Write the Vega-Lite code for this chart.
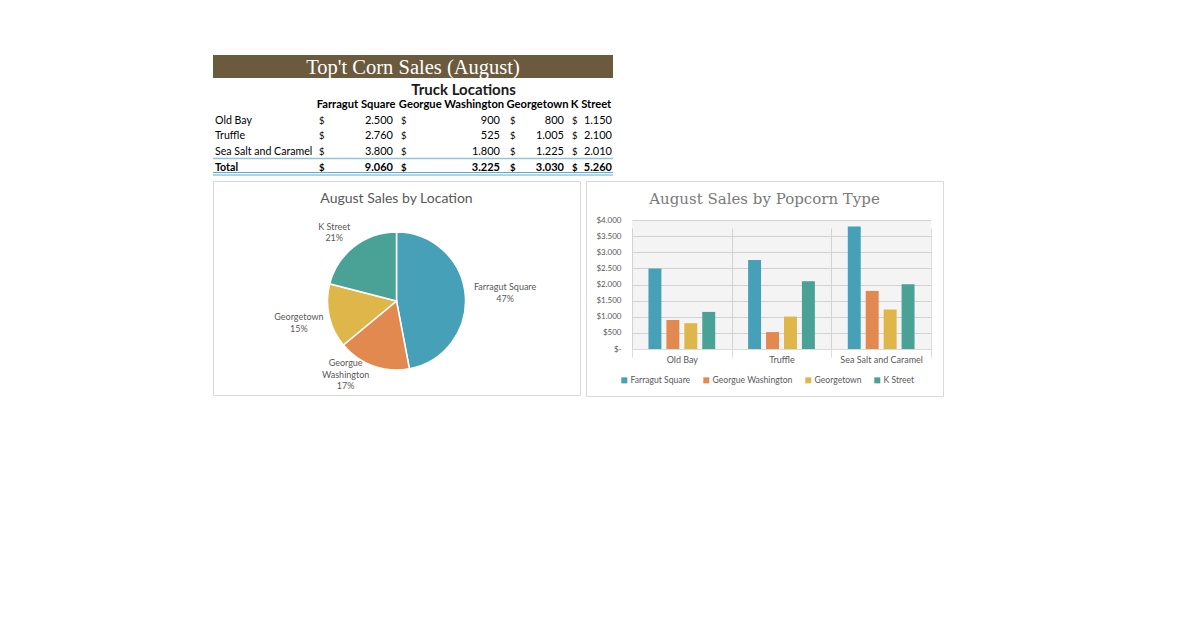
{
  "$schema": "https://vega.github.io/schema/vega-lite/v6.json",
  "padding": {"left": 212, "top": 55, "right": 0, "bottom": 0},
  "background": "white",
  "spacing": 0,
  "config": {
    "view": {"stroke": null},
    "font": "Lato",
    "locale": {"number": {"decimal": ",", "thousands": ".", "grouping": [3], "currency": ["$", ""]}}
  },
  "datasets": {
    "sales": [
      {"type": "Old Bay", "loc": "Farragut Square", "sales": 2500},
      {"type": "Old Bay", "loc": "Georgue Washington", "sales": 900},
      {"type": "Old Bay", "loc": "Georgetown", "sales": 800},
      {"type": "Old Bay", "loc": "K Street", "sales": 1150},
      {"type": "Truffle", "loc": "Farragut Square", "sales": 2760},
      {"type": "Truffle", "loc": "Georgue Washington", "sales": 525},
      {"type": "Truffle", "loc": "Georgetown", "sales": 1005},
      {"type": "Truffle", "loc": "K Street", "sales": 2100},
      {"type": "Sea Salt and Caramel", "loc": "Farragut Square", "sales": 3800},
      {"type": "Sea Salt and Caramel", "loc": "Georgue Washington", "sales": 1800},
      {"type": "Sea Salt and Caramel", "loc": "Georgetown", "sales": 1225},
      {"type": "Sea Salt and Caramel", "loc": "K Street", "sales": 2010}
    ],
    "totals": [
      {"type": "Total", "loc": "Farragut Square", "sales": 9060},
      {"type": "Total", "loc": "Georgue Washington", "sales": 3225},
      {"type": "Total", "loc": "Georgetown", "sales": 3030},
      {"type": "Total", "loc": "K Street", "sales": 5260}
    ],
    "pie": [
      {"loc": "Farragut Square", "pct": 47, "label": "Farragut Square"},
      {"loc": "Georgue Washington", "pct": 17, "label": "Georgue\nWashington"},
      {"loc": "Georgetown", "pct": 15, "label": "Georgetown"},
      {"loc": "K Street", "pct": 21, "label": "K Street"}
    ]
  },
  "vconcat": [
    {
      "width": 400,
      "height": 23,
      "view": {"fill": "#6b5a3d", "stroke": null},
      "data": {"values": [{"title": "Top't Corn Sales (August)"}]},
      "mark": {"type": "text", "font": "Liberation Serif", "fontSize": 20.5, "color": "#ffffff", "dy": 1},
      "encoding": {"text": {"field": "title"}}
    },
    {
      "bounds": "flush",
      "spacing": 0,
      "hconcat": [
        {
          "width": 102,
          "height": 102,
          "layer": [
            {
              "data": {"name": "sales"},
              "transform": [{"filter": "datum.loc === 'Farragut Square'"}],
              "mark": {"type": "text", "align": "left", "dx": 2, "fontSize": 10.6, "color": "#000000"},
              "encoding": {
                "y": {"field": "type", "type": "nominal", "axis": null, "scale": {"type": "point", "domain": ["Truck Locations", "header", "Old Bay", "Truffle", "Sea Salt and Caramel", "Total"], "range": [11.5, 89.5], "padding": 0}},
                "x": {"datum": 0, "type": "quantitative", "axis": null, "scale": {"domain": [0, 1]}},
                "text": {"field": "type"}
              }
            },
            {
              "data": {"name": "totals"},
              "transform": [{"filter": "datum.loc === 'Farragut Square'"}],
              "mark": {"type": "text", "align": "left", "dx": 2, "fontSize": 10.6, "fontWeight": "bold", "color": "#000000"},
              "encoding": {
                "y": {"field": "type", "type": "nominal", "axis": null},
                "x": {"datum": 0, "type": "quantitative", "axis": null},
                "text": {"field": "type"}
              }
            },
            {"data": {"name": "totals"}, "transform": [{"filter": "datum.loc === 'Farragut Square'"}], "mark": {"type": "rule", "yOffset": -9, "color": "#8fc6dc", "strokeWidth": 1.3}, "encoding": {"y": {"field": "type", "type": "nominal", "axis": null}}},
            {"data": {"name": "totals"}, "transform": [{"filter": "datum.loc === 'Farragut Square'"}], "mark": {"type": "rule", "yOffset": 5, "color": "#5aaed0", "strokeWidth": 1}, "encoding": {"y": {"field": "type", "type": "nominal", "axis": null}}},
            {"data": {"name": "totals"}, "transform": [{"filter": "datum.loc === 'Farragut Square'"}], "mark": {"type": "rule", "yOffset": 7.5, "color": "#5aaed0", "strokeWidth": 1}, "encoding": {"y": {"field": "type", "type": "nominal", "axis": null}}}
          ]
        },
        {
          "width": 82,
          "height": 102,
          "layer": [
            {
              "data": {"name": "totals"},
              "transform": [{"filter": "datum.loc === 'Farragut Square'"}],
              "mark": {"type": "text", "fontSize": 11.2, "fontWeight": "bold", "color": "#000000"},
              "encoding": {
                "y": {"datum": "header", "type": "nominal", "axis": null, "scale": {"type": "point", "domain": ["Truck Locations", "header", "Old Bay", "Truffle", "Sea Salt and Caramel", "Total"], "range": [11.5, 89.5], "padding": 0}},
                "text": {"field": "loc"}
              }
            },
            {
              "data": {"name": "sales"},
              "transform": [{"filter": "datum.loc === 'Farragut Square'"}],
              "mark": {"type": "text", "align": "left", "dx": 4, "fontSize": 9.5, "color": "#000000"},
              "encoding": {"y": {"field": "type", "type": "nominal", "axis": null}, "x": {"datum": 0, "type": "quantitative", "axis": null, "scale": {"domain": [0, 1]}}, "text": {"value": "$"}}
            },
            {
              "data": {"name": "sales"},
              "transform": [{"filter": "datum.loc === 'Farragut Square'"}],
              "mark": {"type": "text", "align": "right", "dx": -4, "fontSize": 11, "color": "#000000"},
              "encoding": {"y": {"field": "type", "type": "nominal", "axis": null}, "x": {"datum": 1, "type": "quantitative", "axis": null}, "text": {"field": "sales", "type": "quantitative", "format": ",.0f"}}
            },
            {
              "data": {"name": "totals"},
              "transform": [{"filter": "datum.loc === 'Farragut Square'"}],
              "mark": {"type": "text", "align": "left", "dx": 4, "fontSize": 9.5, "fontWeight": "bold", "color": "#000000"},
              "encoding": {"y": {"field": "type", "type": "nominal", "axis": null}, "x": {"datum": 0, "type": "quantitative", "axis": null}, "text": {"value": "$"}}
            },
            {
              "data": {"name": "totals"},
              "transform": [{"filter": "datum.loc === 'Farragut Square'"}],
              "mark": {"type": "text", "align": "right", "dx": -4, "fontSize": 11, "fontWeight": "bold", "color": "#000000"},
              "encoding": {"y": {"field": "type", "type": "nominal", "axis": null}, "x": {"datum": 1, "type": "quantitative", "axis": null}, "text": {"field": "sales", "type": "quantitative", "format": ",.0f"}}
            },
            {"data": {"name": "totals"}, "transform": [{"filter": "datum.loc === 'Farragut Square'"}], "mark": {"type": "rule", "yOffset": -9, "color": "#8fc6dc", "strokeWidth": 1.3}, "encoding": {"y": {"field": "type", "type": "nominal", "axis": null}}},
            {"data": {"name": "totals"}, "transform": [{"filter": "datum.loc === 'Farragut Square'"}], "mark": {"type": "rule", "yOffset": 5, "color": "#5aaed0", "strokeWidth": 1}, "encoding": {"y": {"field": "type", "type": "nominal", "axis": null}}},
            {"data": {"name": "totals"}, "transform": [{"filter": "datum.loc === 'Farragut Square'"}], "mark": {"type": "rule", "yOffset": 7.5, "color": "#5aaed0", "strokeWidth": 1}, "encoding": {"y": {"field": "type", "type": "nominal", "axis": null}}}
          ]
        },
        {
          "width": 109,
          "height": 102,
          "layer": [
            {
              "data": {"name": "totals"},
              "transform": [{"filter": "datum.loc === 'Georgue Washington'"}],
              "mark": {"type": "text", "fontSize": 11.2, "fontWeight": "bold", "color": "#000000"},
              "encoding": {
                "y": {"datum": "header", "type": "nominal", "axis": null, "scale": {"type": "point", "domain": ["Truck Locations", "header", "Old Bay", "Truffle", "Sea Salt and Caramel", "Total"], "range": [11.5, 89.5], "padding": 0}},
                "text": {"field": "loc"}
              }
            },
            {
              "data": {"name": "totals"},
              "transform": [{"filter": "datum.loc === 'Georgue Washington'"}],
              "mark": {"type": "text", "fontSize": 15, "fontWeight": "bold", "color": "#1a1a1a", "dx": 12},
              "encoding": {"y": {"datum": "Truck Locations", "type": "nominal", "axis": null}, "text": {"value": "Truck Locations"}}
            },
            {
              "data": {"name": "sales"},
              "transform": [{"filter": "datum.loc === 'Georgue Washington'"}],
              "mark": {"type": "text", "align": "left", "dx": 4, "fontSize": 9.5, "color": "#000000"},
              "encoding": {"y": {"field": "type", "type": "nominal", "axis": null}, "x": {"datum": 0, "type": "quantitative", "axis": null, "scale": {"domain": [0, 1]}}, "text": {"value": "$"}}
            },
            {
              "data": {"name": "sales"},
              "transform": [{"filter": "datum.loc === 'Georgue Washington'"}],
              "mark": {"type": "text", "align": "right", "dx": -6, "fontSize": 11, "color": "#000000"},
              "encoding": {"y": {"field": "type", "type": "nominal", "axis": null}, "x": {"datum": 1, "type": "quantitative", "axis": null}, "text": {"field": "sales", "type": "quantitative", "format": ",.0f"}}
            },
            {
              "data": {"name": "totals"},
              "transform": [{"filter": "datum.loc === 'Georgue Washington'"}],
              "mark": {"type": "text", "align": "left", "dx": 4, "fontSize": 9.5, "fontWeight": "bold", "color": "#000000"},
              "encoding": {"y": {"field": "type", "type": "nominal", "axis": null}, "x": {"datum": 0, "type": "quantitative", "axis": null}, "text": {"value": "$"}}
            },
            {
              "data": {"name": "totals"},
              "transform": [{"filter": "datum.loc === 'Georgue Washington'"}],
              "mark": {"type": "text", "align": "right", "dx": -6, "fontSize": 11, "fontWeight": "bold", "color": "#000000"},
              "encoding": {"y": {"field": "type", "type": "nominal", "axis": null}, "x": {"datum": 1, "type": "quantitative", "axis": null}, "text": {"field": "sales", "type": "quantitative", "format": ",.0f"}}
            },
            {"data": {"name": "totals"}, "transform": [{"filter": "datum.loc === 'Georgue Washington'"}], "mark": {"type": "rule", "yOffset": -9, "color": "#8fc6dc", "strokeWidth": 1.3}, "encoding": {"y": {"field": "type", "type": "nominal", "axis": null}}},
            {"data": {"name": "totals"}, "transform": [{"filter": "datum.loc === 'Georgue Washington'"}], "mark": {"type": "rule", "yOffset": 5, "color": "#5aaed0", "strokeWidth": 1}, "encoding": {"y": {"field": "type", "type": "nominal", "axis": null}}},
            {"data": {"name": "totals"}, "transform": [{"filter": "datum.loc === 'Georgue Washington'"}], "mark": {"type": "rule", "yOffset": 7.5, "color": "#5aaed0", "strokeWidth": 1}, "encoding": {"y": {"field": "type", "type": "nominal", "axis": null}}}
          ]
        },
        {
          "width": 63,
          "height": 102,
          "layer": [
            {
              "data": {"name": "totals"},
              "transform": [{"filter": "datum.loc === 'Georgetown'"}],
              "mark": {"type": "text", "fontSize": 11.2, "fontWeight": "bold", "color": "#000000"},
              "encoding": {
                "y": {"datum": "header", "type": "nominal", "axis": null, "scale": {"type": "point", "domain": ["Truck Locations", "header", "Old Bay", "Truffle", "Sea Salt and Caramel", "Total"], "range": [11.5, 89.5], "padding": 0}},
                "text": {"field": "loc"}
              }
            },
            {
              "data": {"name": "sales"},
              "transform": [{"filter": "datum.loc === 'Georgetown'"}],
              "mark": {"type": "text", "align": "left", "dx": 4, "fontSize": 9.5, "color": "#000000"},
              "encoding": {"y": {"field": "type", "type": "nominal", "axis": null}, "x": {"datum": 0, "type": "quantitative", "axis": null, "scale": {"domain": [0, 1]}}, "text": {"value": "$"}}
            },
            {
              "data": {"name": "sales"},
              "transform": [{"filter": "datum.loc === 'Georgetown'"}],
              "mark": {"type": "text", "align": "right", "dx": -5, "fontSize": 11, "color": "#000000"},
              "encoding": {"y": {"field": "type", "type": "nominal", "axis": null}, "x": {"datum": 1, "type": "quantitative", "axis": null}, "text": {"field": "sales", "type": "quantitative", "format": ",.0f"}}
            },
            {
              "data": {"name": "totals"},
              "transform": [{"filter": "datum.loc === 'Georgetown'"}],
              "mark": {"type": "text", "align": "left", "dx": 4, "fontSize": 9.5, "fontWeight": "bold", "color": "#000000"},
              "encoding": {"y": {"field": "type", "type": "nominal", "axis": null}, "x": {"datum": 0, "type": "quantitative", "axis": null}, "text": {"value": "$"}}
            },
            {
              "data": {"name": "totals"},
              "transform": [{"filter": "datum.loc === 'Georgetown'"}],
              "mark": {"type": "text", "align": "right", "dx": -5, "fontSize": 11, "fontWeight": "bold", "color": "#000000"},
              "encoding": {"y": {"field": "type", "type": "nominal", "axis": null}, "x": {"datum": 1, "type": "quantitative", "axis": null}, "text": {"field": "sales", "type": "quantitative", "format": ",.0f"}}
            },
            {"data": {"name": "totals"}, "transform": [{"filter": "datum.loc === 'Georgetown'"}], "mark": {"type": "rule", "yOffset": -9, "color": "#8fc6dc", "strokeWidth": 1.3}, "encoding": {"y": {"field": "type", "type": "nominal", "axis": null}}},
            {"data": {"name": "totals"}, "transform": [{"filter": "datum.loc === 'Georgetown'"}], "mark": {"type": "rule", "yOffset": 5, "color": "#5aaed0", "strokeWidth": 1}, "encoding": {"y": {"field": "type", "type": "nominal", "axis": null}}},
            {"data": {"name": "totals"}, "transform": [{"filter": "datum.loc === 'Georgetown'"}], "mark": {"type": "rule", "yOffset": 7.5, "color": "#5aaed0", "strokeWidth": 1}, "encoding": {"y": {"field": "type", "type": "nominal", "axis": null}}}
          ]
        },
        {
          "width": 44,
          "height": 102,
          "layer": [
            {
              "data": {"name": "totals"},
              "transform": [{"filter": "datum.loc === 'K Street'"}],
              "mark": {"type": "text", "fontSize": 11.2, "fontWeight": "bold", "color": "#000000"},
              "encoding": {
                "y": {"datum": "header", "type": "nominal", "axis": null, "scale": {"type": "point", "domain": ["Truck Locations", "header", "Old Bay", "Truffle", "Sea Salt and Caramel", "Total"], "range": [11.5, 89.5], "padding": 0}},
                "text": {"field": "loc"}
              }
            },
            {
              "data": {"name": "sales"},
              "transform": [{"filter": "datum.loc === 'K Street'"}],
              "mark": {"type": "text", "align": "left", "dx": 3, "fontSize": 9.5, "color": "#000000"},
              "encoding": {"y": {"field": "type", "type": "nominal", "axis": null}, "x": {"datum": 0, "type": "quantitative", "axis": null, "scale": {"domain": [0, 1]}}, "text": {"value": "$"}}
            },
            {
              "data": {"name": "sales"},
              "transform": [{"filter": "datum.loc === 'K Street'"}],
              "mark": {"type": "text", "align": "right", "dx": -1, "fontSize": 11, "color": "#000000"},
              "encoding": {"y": {"field": "type", "type": "nominal", "axis": null}, "x": {"datum": 1, "type": "quantitative", "axis": null}, "text": {"field": "sales", "type": "quantitative", "format": ",.0f"}}
            },
            {
              "data": {"name": "totals"},
              "transform": [{"filter": "datum.loc === 'K Street'"}],
              "mark": {"type": "text", "align": "left", "dx": 3, "fontSize": 9.5, "fontWeight": "bold", "color": "#000000"},
              "encoding": {"y": {"field": "type", "type": "nominal", "axis": null}, "x": {"datum": 0, "type": "quantitative", "axis": null}, "text": {"value": "$"}}
            },
            {
              "data": {"name": "totals"},
              "transform": [{"filter": "datum.loc === 'K Street'"}],
              "mark": {"type": "text", "align": "right", "dx": -1, "fontSize": 11, "fontWeight": "bold", "color": "#000000"},
              "encoding": {"y": {"field": "type", "type": "nominal", "axis": null}, "x": {"datum": 1, "type": "quantitative", "axis": null}, "text": {"field": "sales", "type": "quantitative", "format": ",.0f"}}
            },
            {"data": {"name": "totals"}, "transform": [{"filter": "datum.loc === 'K Street'"}], "mark": {"type": "rule", "yOffset": -9, "color": "#8fc6dc", "strokeWidth": 1.3}, "encoding": {"y": {"field": "type", "type": "nominal", "axis": null}}},
            {"data": {"name": "totals"}, "transform": [{"filter": "datum.loc === 'K Street'"}], "mark": {"type": "rule", "yOffset": 5, "color": "#5aaed0", "strokeWidth": 1}, "encoding": {"y": {"field": "type", "type": "nominal", "axis": null}}},
            {"data": {"name": "totals"}, "transform": [{"filter": "datum.loc === 'K Street'"}], "mark": {"type": "rule", "yOffset": 7.5, "color": "#5aaed0", "strokeWidth": 1}, "encoding": {"y": {"field": "type", "type": "nominal", "axis": null}}}
          ]
        }
      ]
    },
    {
      "bounds": "flush",
      "spacing": 6,
      "resolve": {"scale": {"color": "independent"}, "legend": {"color": "independent"}},
      "hconcat": [
        {
          "width": 367,
          "height": 214,
          "view": {"stroke": "#d9d9d9", "fill": "#ffffff"},
          "title": {"text": "August Sales by Location", "fontSize": 14, "fontWeight": "normal", "color": "#595959", "anchor": "middle", "offset": -25},
          "data": {"name": "pie"},
          "transform": [
            {"window": [{"op": "row_number", "as": "i"}]},
            {"calculate": "datum.label + '\\n' + datum.pct + '%'", "as": "txt"}
          ],
          "encoding": {
            "theta": {"field": "pct", "type": "quantitative", "stack": true},
            "order": {"field": "i", "type": "quantitative"}
          },
          "layer": [
            {
              "mark": {"type": "arc", "outerRadius": 69, "stroke": "#ffffff", "strokeWidth": 1.5, "yOffset": 13},
              "encoding": {
                "color": {"field": "loc", "type": "nominal", "legend": null, "scale": {"domain": ["Farragut Square", "Georgue Washington", "Georgetown", "K Street"], "range": ["#45a0b8", "#e2894f", "#deb64a", "#4aa296"]}}
              }
            },
            {
              "mark": {"type": "text", "radius": 100, "yOffset": 13, "dx": 9, "dy": -5, "fontSize": 9, "color": "#595959", "lineBreak": "\n", "lineHeight": 12},
              "encoding": {"text": {"condition": {"test": "datum.loc === 'Farragut Square'", "field": "txt"}, "value": ""}}
            },
            {
              "mark": {"type": "text", "radius": 100, "yOffset": 13, "dx": -17, "dy": -32, "fontSize": 9, "color": "#595959", "lineBreak": "\n", "lineHeight": 11.5},
              "encoding": {"text": {"condition": {"test": "datum.loc === 'Georgue Washington'", "field": "txt"}, "value": ""}}
            },
            {
              "mark": {"type": "text", "radius": 100, "yOffset": 13, "dx": 0, "dy": -6, "fontSize": 9, "color": "#595959", "lineBreak": "\n", "lineHeight": 12},
              "encoding": {"text": {"condition": {"test": "datum.loc === 'Georgetown'", "field": "txt"}, "value": ""}}
            },
            {
              "mark": {"type": "text", "radius": 100, "yOffset": 13, "dx": -1, "dy": 5, "fontSize": 9, "color": "#595959", "lineBreak": "\n", "lineHeight": 11.5},
              "encoding": {"text": {"condition": {"test": "datum.loc === 'K Street'", "field": "txt"}, "value": ""}}
            }
          ]
        },
        {
          "width": 357,
          "height": 215,
          "view": {"stroke": "#d9d9d9", "fill": "#ffffff"},
          "title": {"text": "August Sales by Popcorn Type", "font": "DejaVu Serif", "fontSize": 15, "fontWeight": "normal", "color": "#7a7a7a", "anchor": "middle", "offset": -26},
          "data": {"name": "sales"},
          "encoding": {
            "x": {
              "field": "type", "type": "nominal",
              "sort": ["Old Bay", "Truffle", "Sea Salt and Caramel"],
              "scale": {"range": [46, 345], "paddingInner": 0, "paddingOuter": 0},
              "axis": {"title": null, "offset": -47, "labelAngle": 0, "labelColor": "#595959", "labelFontSize": 9, "labelPadding": 6, "ticks": false, "domainColor": "#d9d9d9", "grid": true, "gridColor": "#dcdcdc", "tickBand": "extent"}
            }
          },
          "layer": [
            {
              "transform": [{"filter": "datum.loc === 'Farragut Square'"}],
              "mark": {"type": "bar", "color": "#000000", "opacity": 0.045},
              "encoding": {
                "y": {
                  "datum": 4000, "type": "quantitative",
                  "scale": {"domain": [0, 4000], "range": [168, 39], "nice": false},
                  "axis": {"title": null, "offset": -46, "values": [0, 500, 1000, 1500, 2000, 2500, 3000, 3500, 4000], "format": "$,.0f", "labelExpr": "datum.value === 0 ? '$-' : datum.label", "labelOverlap": false, "domain": false, "ticks": false, "labelPadding": 11, "labelColor": "#595959", "labelFontSize": 8, "grid": true, "gridColor": "#dcdcdc"}
                },
                "y2": {"datum": 0}
              }
            },
            {
              "mark": {"type": "bar"},
              "encoding": {
                "xOffset": {"field": "loc", "type": "nominal", "sort": ["Farragut Square", "Georgue Washington", "Georgetown", "K Street"], "scale": {"paddingInner": 0.278, "paddingOuter": 0.917}},
                "y": {
                  "field": "sales", "type": "quantitative",
                  "scale": {"domain": [0, 4000], "range": [168, 39], "nice": false},
                  "axis": {"title": null, "offset": -46, "values": [0, 500, 1000, 1500, 2000, 2500, 3000, 3500, 4000], "format": "$,.0f", "labelExpr": "datum.value === 0 ? '$-' : datum.label", "labelOverlap": false, "domain": false, "ticks": false, "labelPadding": 11, "labelColor": "#595959", "labelFontSize": 8, "grid": true, "gridColor": "#dcdcdc"}
                },
                "color": {
                  "field": "loc", "type": "nominal",
                  "scale": {"domain": ["Farragut Square", "Georgue Washington", "Georgetown", "K Street"], "range": ["#45a0b8", "#e2894f", "#deb64a", "#4aa296"]},
                  "legend": {"orient": "none", "legendX": 34, "legendY": 195, "direction": "horizontal", "title": null, "symbolType": "square", "symbolSize": 36, "labelFontSize": 8.6, "labelColor": "#595959", "columnPadding": 11, "labelOffset": 2}
                }
              }
            }
          ]
        }
      ]
    }
  ]
}
